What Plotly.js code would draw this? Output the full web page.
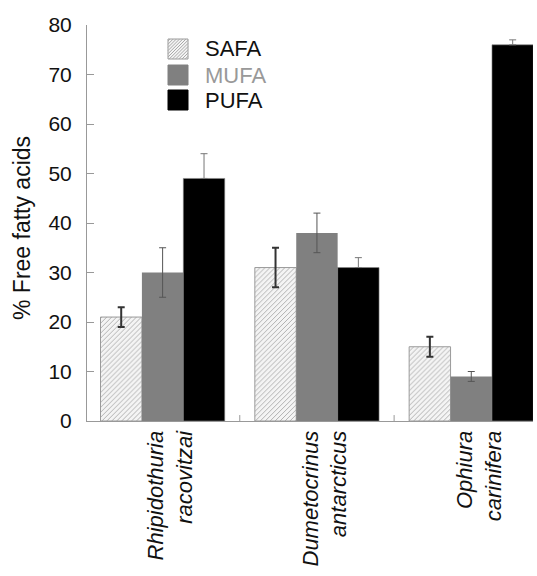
<!DOCTYPE html>
<html><head><meta charset="utf-8">
<script src="https://cdn.plot.ly/plotly-3.0.1.min.js"></script>
<style>body{margin:0;background:#fff}#c{width:537px;height:576px}</style>
</head><body><div id="c"></div>
<script>
const categories = ['Rhipidothuria<br>racovitzai', 'Dumetocrinus<br>antarcticus', 'Ophiura<br>carinifera'];
const seriesNames = ['SAFA', 'MUFA', 'PUFA'];
const safa = [21, 31, 15];
const safaErr = [2, 4, 2];
const mufa = [30, 38, 9];
const mufaErr = [5, 4, 1];
const pufa = [49, 31, 76];
const pufaErr = [5, 2, 1];
const yTicks = [0, 10, 20, 30, 40, 50, 60, 70, 80];

const xIdx = categories.map((c, i) => i);
const FONT = 'Liberation Sans, Arial, sans-serif';

const traces = [
  {type:'bar', name:seriesNames[0], x:xIdx, y:safa, showlegend:false,
   marker:{color:'#f4f4f4', line:{color:'#9a9a9a', width:1},
     pattern:{shape:'/', fgcolor:'#a8a8a8', bgcolor:'#f4f4f4', size:3.5, solidity:0.25}},
   error_y:{type:'data', array:safaErr, visible:true, color:'#333', thickness:2, width:3.5}},
  {type:'bar', name:seriesNames[1], x:xIdx, y:mufa, showlegend:false,
   marker:{color:'#808080', line:{color:'#808080', width:0}},
   error_y:{type:'data', array:mufaErr, visible:true, color:'#555', thickness:1, width:3.5}},
  {type:'bar', name:seriesNames[2], x:xIdx, y:pufa, showlegend:false,
   marker:{color:'#000000', line:{color:'#888', width:0.6}},
   error_y:{type:'data', array:pufaErr, arrayminus:pufaErr.map(() => 0), visible:true, color:'#777', thickness:1, width:3.5}}
];

// --- custom legend (swatches drawn with shapes in paper coordinates) ---
const L = 87, R = 533, T = 25, B = 421;
const px = v => (v - L) / (R - L);
const py = v => (B - v) / (B - T);
const swLeft = 168, swSize = 20;
const rowTops = [39, 65, 90];
const swFill = ['#f4f4f4', '#808080', '#000000'];
const swLine = ['#9a9a9a', '#808080', '#000000'];
const textCol = ['#111', '#999', '#111'];
const shapes = [];
const annotations = [];
rowTops.forEach((top, i) => {
  shapes.push({type:'rect', xref:'paper', yref:'paper', x0:px(swLeft), x1:px(swLeft + swSize),
    y0:py(top + swSize), y1:py(top), fillcolor:swFill[i], line:{color:swLine[i], width:1}});
  annotations.push({xref:'paper', yref:'paper', x:px(swLeft + 35), y:py(top + swSize / 2),
    xanchor:'left', yanchor:'middle', text:seriesNames[i], showarrow:false,
    font:{family:FONT, size:22, color:textCol[i]}});
});
// hatch in SAFA swatch
{
  const top = rowTops[0];
  let p = '';
  for (let k = -18; k <= 18; k += 3.2) {
    const u0 = Math.max(0, k), u1 = Math.min(swSize, swSize + k);
    if (u1 <= u0) continue;
    const x0 = px(swLeft + u0), x1 = px(swLeft + u1);
    const y0 = py(top + swSize - (u0 - k)), y1 = py(top + swSize - (u1 - k));
    p += `M${x0},${y0}L${x1},${y1}`;
  }
  shapes.push({type:'path', xref:'paper', yref:'paper', path:p, line:{color:'#a8a8a8', width:1}});
}
// y-axis title
annotations.push({xref:'paper', yref:'paper', x:px(22), y:py(228), xanchor:'center', yanchor:'middle',
  text:'% Free fatty acids', textangle:-90, showarrow:false, font:{family:FONT, size:23, color:'#111'}});
// small category separator ticks
[0.5, 1.5].forEach(v => shapes.push({type:'line', xref:'x', yref:'paper', x0:v, x1:v, y0:0, y1:0.015,
  line:{color:'#999', width:1}}));

const layout = {
  width:537, height:576,
  margin:{l:L, r:537 - R, t:T, b:576 - B},
  paper_bgcolor:'#fff', plot_bgcolor:'#fff',
  font:{family:FONT, size:20, color:'#111'},
  barmode:'group', bargap:0.195, bargroupgap:0,
  showlegend:false,
  xaxis:{range:[-0.49, 2.4], tickmode:'array', tickvals:xIdx, ticktext:categories,
    tickangle:-90, tickfont:{size:22, style:'italic'}, showgrid:false, zeroline:false,
    showline:true, linecolor:'#999', linewidth:1, ticks:'', ticklen:0, ticklabelshift:8},
  yaxis:{range:[0, 80], tickmode:'array', tickvals:yTicks, ticktext:yTicks.map(String),
    tickfont:{size:21}, ticks:'inside', ticklen:7, tickcolor:'#999', showline:true, linecolor:'#999', linewidth:1,
    showgrid:false, zeroline:false, ticklabelstandoff:10},
  shapes: shapes,
  annotations: annotations
};

Plotly.newPlot('c', traces, layout, {displayModeBar:false, staticPlot:true});
</script></body></html>
